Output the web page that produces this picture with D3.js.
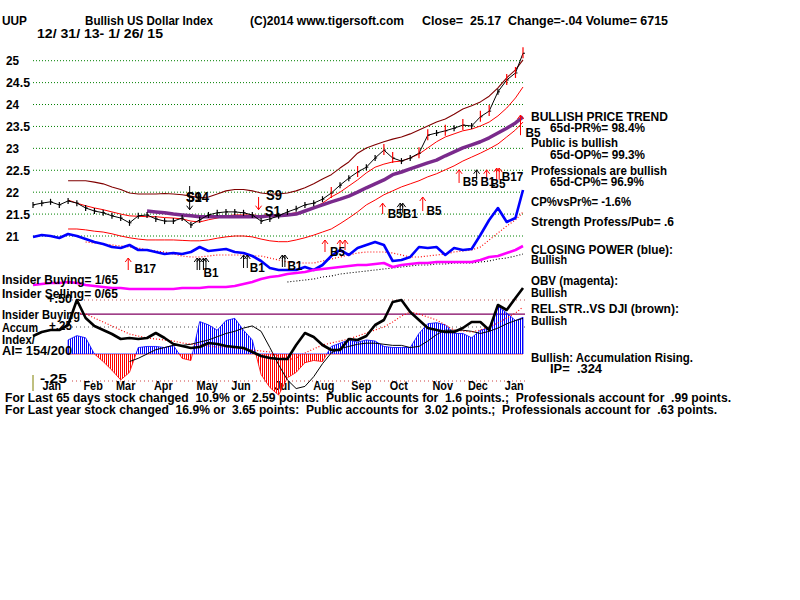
<!DOCTYPE html>
<html><head><meta charset="utf-8">
<script src="https://cdn.jsdelivr.net/npm/d3@7"></script>
<style>
body{margin:0;background:#fff}
text{font-family:"Liberation Sans",Arial,sans-serif;font-weight:bold;fill:#000;white-space:pre}
</style>
</head><body><svg id="c" width="800" height="600"></svg>
<script>
// ---------------- DATA (weekly samples, 12/31/13 - 1/26/15) ----------------
const startDate = "2013-12-31", endDate = "2015-01-26";
const close = [21.71,21.75,21.78,21.71,21.80,21.75,21.64,21.57,21.53,21.46,
 21.41,21.30,21.46,21.48,21.39,21.34,21.34,21.41,21.25,21.37,
 21.48,21.53,21.55,21.55,21.53,21.48,21.34,21.39,21.46,21.55,
 21.62,21.71,21.75,21.84,21.98,22.16,22.32,22.46,22.57,22.78,
 22.96,22.78,22.71,22.78,22.89,23.30,23.35,23.40,23.46,23.53,
 23.51,23.72,23.85,24.29,24.56,24.72,25.17];
const upperBand = [null,null,null,null,22.26,22.26,22.26,22.23,22.19,22.12,
 22.06,21.98,21.96,21.96,21.96,21.97,21.96,21.94,21.91,21.87,
 21.89,21.96,22.03,22.06,22.06,22.03,21.98,21.96,21.96,21.98,
 22.03,22.10,22.19,22.30,22.40,22.55,22.69,22.89,23.01,23.08,
 23.15,23.21,23.26,23.33,23.42,23.51,23.60,23.67,23.78,23.90,
 23.97,24.06,24.19,24.38,24.61,24.79,25.02];
const midBand = [null,null,null,null,21.82,21.75,21.69,21.64,21.60,21.55,
 21.50,21.46,21.45,21.44,21.44,21.42,21.41,21.39,21.34,21.32,
 21.37,21.41,21.46,21.48,21.48,21.48,21.46,21.44,21.46,21.50,
 21.53,21.57,21.64,21.75,21.89,22.00,22.14,22.28,22.44,22.57,
 22.64,22.69,22.71,22.78,22.87,23.01,23.15,23.26,23.33,23.40,
 23.44,23.51,23.60,23.74,23.92,24.15,24.40];
const lowBand = [null,null,null,null,21.16,21.16,21.14,21.11,21.09,21.05,
 21.00,20.96,20.93,20.91,20.91,20.91,20.91,20.90,20.89,20.89,
 20.91,20.95,20.98,21.00,21.00,20.98,20.93,20.89,20.87,20.87,
 20.91,20.96,21.02,21.09,21.16,21.28,21.41,21.55,21.71,21.82,
 21.94,22.03,22.12,22.19,22.26,22.35,22.42,22.51,22.60,22.71,
 22.80,22.89,22.99,23.10,23.26,23.42,23.60];
const ma65 = [null,null,null,null,null,null,null,null,null,null,null,null,null,
 21.57,21.55,21.53,21.50,21.48,21.46,21.44,
 21.44,21.44,21.44,21.44,21.44,21.44,21.44,21.46,21.46,21.48,
 21.50,21.57,21.64,21.71,21.78,21.84,21.91,22.00,22.10,22.19,
 22.28,22.40,22.46,22.53,22.60,22.67,22.73,22.83,22.92,23.01,
 23.08,23.15,23.24,23.35,23.46,23.58,23.72];
const redBarIdx = [34,37,40,41,44,45,47,49,51,52,54,55,56];

const closingPower = [53,55,54,52,56,54,51,48,46,43,
 42,45,40,40,38,36,37,36,38,43,
 39,40,41,38,37,34,29,22,20,20,
 20,23,20,25,34,40,35,42,45,48,
 45,29,30,33,43,42,43,35,42,40,
 41,55,70,82,68,72,100];
const closingPowerMA = [null,null,null,null,null,null,48,47,46,45,
 44,43,42,40,39,38,36,34,33,33,
 34,35,35,35,35,34,34,32,30,28,
 27,27,27,29,31,33,35,37,38,38,
 38,37,35,33,33,34,35,36,38,39,
 40,43,50,57,64,70,78];
const obv = [5,6,7,7,8,7,5,4,3,2,
 2,1,1,1,1,1,1,2,2,2,
 3,3,3,4,6,8,11,13,14,16,
 17,18,20,21,22,23,24,25,25,26,
 27,23,25,26,27,27,28,28,28,28,
 28,30,33,34,37,40,44];
const obvMA = [null,null,null,null,null,null,null,null,null,null,
 null,null,null,null,null,null,null,null,null,null,
 null,null,null,null,null,null,null,null,null,
 8,9,10,11,13,14,16,17,18,19,20,21,22,23,24,25,25,26,26,27,27,27,28,29,31,32,34,36];

const accumIndex = [null,null,null,null,0.13,0.17,0.15,0,-0.07,-0.15,
 -0.24,-0.17,0.06,0.07,0.07,0.06,0.08,-0.04,-0.06,0.30,
 0.27,0.22,0.31,0.33,0.22,0.13,-0.19,-0.31,-0.38,-0.22,
 -0.17,-0.08,-0.06,-0.07,0.07,0.10,0.13,0.11,0.13,0.12,
 0.07,0.06,0.06,0.06,0.19,0.28,0.29,0.27,0.19,0.19,
 0.15,0.22,0.24,0.44,0.38,0.31,0.34];
const accumMA = [null,null,null,null,null,null,null,null,null,null,null,
 -0.07,-0.04,0,0.04,0.06,0.08,0.08,0.09,0.11,
 0.13,0.16,0.19,0.21,0.24,0.26,0.21,0.06,-0.10,-0.24,
 -0.32,-0.30,-0.21,-0.09,0.01,0.05,0.07,0.09,0.10,0.10,
 0.09,0.08,0.08,0.06,0.07,0.12,0.18,0.22,0.22,0.22,
 0.21,0.19,0.21,0.24,0.28,0.31,0.33];
const relStrength = [64,68,70,70,75,100,82,74,70,66,
 61,62,61,62,67,62,56,54,52,53,
 57,56,54,53,52,48,44,42,41,41,
 55,67,63,55,50,50,61,60,64,75,
 80,98,100,88,80,72,70,68,68,72,
 78,78,70,95,90,102,112];
const relStrengthMA = [null,null,null,null,null,87,86,82,78,74,
 70,66,64,62,61,60,59,57,56,55,
 54,53,53,52,51,50,49,48,44,40,
 42,47,51,55,57,59,61,64,67,70,
 73,78,84,88,86,83,80,75,70,69,
 68,70,73,77,82,87,93];

const priceTicks = [21,21.5,22,22.5,23,23.5,24,24.5,25];
const aiLevels = [0.5,0.25,-0.25];
const aiLevelLabels = ["+.50","+.25","-.25"];
const insiderLine = 0.37;
const monthTicks = [["Jan","2014-01-15"],["Feb","2014-02-17"],["Mar","2014-03-15"],["Apr","2014-04-14"],
 ["May","2014-05-19"],["Jun","2014-06-15"],["Jul","2014-07-18"],["Aug","2014-08-20"],["Sep","2014-09-19"],
 ["Oct","2014-10-19"],["Nov","2014-11-23"],["Dec","2014-12-21"],["Jan","2015-01-19"]];

// signal arrows: [date, panel, from, to, signal]
const arrows = [
 ["2014-03-17","cp",20,32,"B17"],
 ["2014-05-11","cp",20,32,"B1"],["2014-05-13","cp",20,32,"B1"],["2014-05-16","cp",20,32,"B1"],["2014-05-18","cp",20,32,"B1"],
 ["2014-06-17","cp",22,35,"B1"],["2014-06-20","cp",22,35,"B1"],
 ["2014-07-18","cp",23,35,"B1"],["2014-07-20","cp",23,35,"B1"],
 ["2014-08-21","cp",38,50,"B5"],["2014-09-02","cp",40,50,"B5"],["2014-09-06","cp",40,50,"B5"],
 ["2014-10-06","price",21.50,21.75,"B5"],
 ["2014-10-20","price",21.53,21.75,"B1"],["2014-10-22","price",21.53,21.75,"B1"],
 ["2014-11-07","price",21.57,21.89,"B5"],
 ["2014-12-06","price",22.21,22.51,"B5"],
 ["2014-12-20","price",22.28,22.51,"B1"],
 ["2014-12-28","price",22.26,22.51,"B5"],
 ["2015-01-05","price",22.28,22.55,"B5"],["2015-01-07","price",22.28,22.55,"B17"],
 ["2015-01-24","price",23.30,23.76,"B5"],
 ["2014-05-05","price",22.14,21.60,"S14"],
 ["2014-06-29","price",21.89,21.60,"S1"]
];
const signalLabels = [
 ["2014-03-22","cp",17,"B17"],["2014-05-16","cp",13,"B1"],["2014-06-22","cp",18,"B1"],
 ["2014-07-22","cp",20,"B1"],["2014-08-25","cp",34,"B5"],
 ["2014-10-10","price",21.41,"B5B1"],["2014-11-10","price",21.48,"B5"],
 ["2014-12-09","price",22.14,"B5"],["2014-12-31","price",22.10,"B5"],["2014-12-23","price",22.14,"B1"],
 ["2015-01-09","price",22.26,"B17"],["2015-01-28","price",23.26,"B5"],
 ["2014-05-02","price",21.78,"S14"],["2014-05-02","price",21.78,"S9"],
 ["2014-07-05","price",21.82,"S9"],["2014-07-04","price",21.46,"S1"]
];

// ---------------- DRAWING ----------------
const svg = d3.select("#c");
const parse = d3.timeParse("%Y-%m-%d");
const t0 = parse(startDate), t1 = parse(endDate);
const n = close.length;
const dates = d3.range(n).map(i => i < n - 1 ? d3.timeDay.offset(t0, 7 * i) : t1);
const x = d3.scaleTime().domain([t0, t1]).range([33, 523]);
const yP = d3.scaleLinear().domain([21, 25]).range([236, 60.7]);
const yI = d3.scaleLinear().domain([0, 100]).range([290, 190]);
const yA = d3.scaleLinear().domain([-0.25, 0.5]).range([381, 300]);
const yR = d3.scaleLinear().domain([0, 110]).range([400, 290]);
const panelScale = {price: yP, cp: yI};

function T(s, xx, yy, size, w, anchor) {
  const t = svg.append("text").attr("x", xx).attr("y", yy).attr("font-size", size).text(s);
  if (anchor) t.attr("text-anchor", anchor);
  const nat = t.node().getComputedTextLength();
  t.attr("textLength", w || nat * 0.87).attr("lengthAdjust", "spacingAndGlyphs");
  return t;
}
function series(arr, ys, color, width, dash) {
  const gen = d3.line().defined(d => d != null).x((d, i) => x(dates[i])).y(d => ys(d));
  const p = svg.append("path").attr("d", gen(arr)).attr("fill", "none")
    .attr("stroke", color).attr("stroke-width", width).attr("stroke-linejoin", "round");
  if (dash) p.attr("stroke-dasharray", dash);
  return p;
}

// patterns for accumulation bars
const defs = svg.append("defs");
[["stripeBlue", "#0000ff"], ["stripeRed", "#ff0000"]].forEach(([id, c]) => {
  const p = defs.append("pattern").attr("id", id).attr("patternUnits", "userSpaceOnUse")
    .attr("width", 2).attr("height", 20);
  p.append("rect").attr("x", 0).attr("y", 0).attr("width", 1).attr("height", 20).attr("fill", c);
});
defs.append("clipPath").attr("id", "above").append("rect").attr("x", 0).attr("y", 0).attr("width", 800).attr("height", yA(0));
defs.append("clipPath").attr("id", "below").append("rect").attr("x", 0).attr("y", yA(0)).attr("width", 800).attr("height", 300);

// price grid
priceTicks.forEach(v => {
  svg.append("line").attr("x1", 33).attr("x2", 525).attr("y1", yP(v)).attr("y2", yP(v))
    .attr("stroke", "#008000").attr("stroke-dasharray", "1,2");
  const s = String(v);
  T(s, 6, yP(v) + 4.5, 12.5, s.length > 2 ? 24 : 13);
});

// lower panel reference lines
const lvlColor = ["#c05050", "#505050", "#d04040"];
aiLevels.forEach((v, k) => {
  svg.append("line").attr("x1", 72).attr("x2", 525).attr("y1", yA(v)).attr("y2", yA(v))
    .attr("stroke", lvlColor[k]).attr("stroke-dasharray", "1,3");
});
svg.append("line").attr("x1", 80).attr("x2", 525).attr("y1", yA(insiderLine)).attr("y2", yA(insiderLine))
  .attr("stroke", "#800060").attr("stroke-width", 1.2);
svg.append("line").attr("x1", 33).attr("x2", 33).attr("y1", 375).attr("y2", 391).attr("stroke", "#808000");

// month labels (drawn under bars)
monthTicks.forEach(([m, d]) => T(m, x(parse(d)), 390, 12.5, null, "middle"));

// bands
series(upperBand, yP, "#800000", 1.1);
series(midBand, yP, "#ff0000", 1);
series(lowBand, yP, "#ff0000", 1);
series(ma65, yP, "#7a2a8c", 3.5);

// price trace
series(close, yP, "#000", 1);
close.forEach((v, i) => {
  const red = redBarIdx.includes(i);
  const xx = x(dates[i]), yy = yP(v);
  svg.append("line").attr("x1", xx).attr("x2", xx).attr("y1", yy - (red ? 6 : 3)).attr("y2", yy + (red ? 5 : 3))
    .attr("stroke", red ? "#ff0000" : "#000").attr("stroke-width", 1.2);
  svg.append("line").attr("x1", xx).attr("x2", xx + 2).attr("y1", yy).attr("y2", yy).attr("stroke", "#000");
});

// closing power & OBV
series(closingPowerMA, yI, "#ff0000", 1.2, "1,2");
series(closingPower, yI, "#0000ff", 2.6);
series(obvMA, yI, "#000", 1.1, "1,2");
series(obv, yI, "#ff00ff", 2.6);

// accumulation index bars
const aArea = d3.area().defined(d => d != null).x((d, i) => x(dates[i])).y0(yA(0)).y1(d => yA(d));
svg.append("path").attr("d", aArea(accumIndex)).attr("fill", "url(#stripeBlue)")
  .attr("stroke", "#0000ff").attr("stroke-width", 0.8).attr("clip-path", "url(#above)");
svg.append("path").attr("d", aArea(accumIndex)).attr("fill", "url(#stripeRed)")
  .attr("stroke", "#ff0000").attr("stroke-width", 0.8).attr("clip-path", "url(#below)");
series(accumMA, yA, "#000", 1);
series(relStrengthMA, yR, "#ff0000", 1.2, "1,2");
series(relStrength, yR, "#000", 2.6);

// signal arrows
const sigColor = {B1: "#000", B5: "#ff0000", B17: "#ff0000", S14: "#000", S9: "#000", S1: "#ff0000"};
arrows.forEach(([d, p, from, to, s]) => {
  const ys = panelScale[p], xx = x(parse(d));
  const yf = ys(from), yt = ys(to), dir = yt < yf ? 1 : -1;
  svg.append("path")
    .attr("d", `M${xx},${yf}L${xx},${yt}M${xx - 3},${yt + 4 * dir}L${xx},${yt}L${xx + 3},${yt + 4 * dir}`)
    .attr("fill", "none").attr("stroke", sigColor[s]).attr("stroke-width", 1);
});
signalLabels.forEach(([d, p, v, s]) => {
  const big = s[0] === "S";
  T(s, x(parse(d)), panelScale[p](v), big ? 15 : 13.5);
});

// header
T("UUP", 2, 25, 12.5, 25);
T("Bullish US Dollar Index", 85, 25, 12.5, 128);
T("(C)2014 www.tigersoft.com", 250, 25, 12.5, 154);
T("Close=  25.17  Change=-.04 Volume= 6715", 422, 25, 12.5, 246);
T("12/ 31/ 13- 1/ 26/ 15", 37, 38, 12.5, 126);

// right-hand commentary
[["BULLISH PRICE TREND",531,121,137],["65d-PR%= 98.4%",550,132,95],["Public is bullish",531,147,87],
 ["65d-OP%= 99.3%",550,159,95],["Professionals are bullish",531,175,136],["65d-CP%= 96.9%",550,186,94],
 ["CP%vsPr%= -1.6%",531,206,100],["Strength Profess/Pub= .6",531,226,143],["CLOSING POWER (blue):",531,254,142],
 ["Bullish",531,264,36],["OBV (magenta):",531,285,87],["Bullish",531,297,36],
 ["REL.STR..VS DJI (brown):",531,313,148],["Bullish",531,325,36],
 ["Bullish: Accumulation Rising.",531,362,162],["IP=  .324",550,373,52]
].forEach(([s, xx, yy, w]) => T(s, xx, yy, 12.5, w));

// left lower-panel text
[["Insider Buying= 1/65",2,284,116],["Insider Selling= 0/65",2,298,116],["Insider Buying",2,319,78],
 ["Accum",2,332,36],["Index/",2,344,33],["AI= 154/200",2,355,70]
].forEach(([s, xx, yy, w]) => T(s, xx, yy, 12, w));
T(aiLevelLabels[0], 47, yA(aiLevels[0]) + 3, 12, 25);
T(aiLevelLabels[1], 49, yA(aiLevels[1]) + 3, 12, 23);
T(aiLevelLabels[2], 40, yA(aiLevels[2]) + 2, 12, 27);

// bottom summary
T("For Last 65 days stock changed  10.9% or  2.59 points:  Public accounts for  1.6 points.;  Professionals account for  .99 points.", 5, 402, 12, 726);
T("For Last year stock changed  16.9% or  3.65 points:  Public accounts for  3.02 points.;  Professionals account for  .63 points.", 5, 414, 12, 712);
</script>
</body></html>
